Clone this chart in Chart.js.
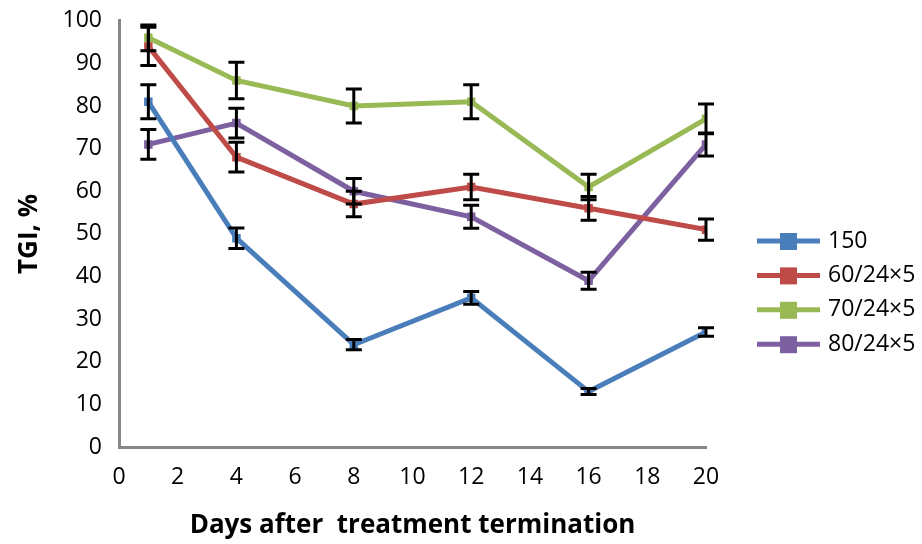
<!DOCTYPE html>
<html>
<head>
<meta charset="utf-8">
<script src="https://cdn.jsdelivr.net/npm/chart.js@4.4.0/dist/chart.umd.min.js"></script>
<style>
  html, body { margin: 0; padding: 0; background: #fff; }
  #wrap { width: 922px; height: 544px; }
</style>
</head>
<body>
<div id="wrap"><canvas id="tgiChart" width="922" height="544"></canvas></div>
<script>
// days after treatment termination
const days = [1, 4, 8, 12, 16, 20];

const seriesLabels = ['150', '60/24×5', '70/24×5', '80/24×5'];
const seriesColors = ['#4a7ebb', '#be4b48', '#98b954', '#7d60a0'];

// TGI values, %
const tgi150 = [81, 49, 24, 35, 13, 27];
const tgi60 = [94, 68, 57, 61, 56, 51];
const tgi70 = [96, 86, 80, 81, 61, 77];
const tgi80 = [71, 76, 60, 54, 39, 71];

// error bar half-heights
const err150 = [4, 2.4, 1.2, 1.5, 0.7, 1];
const err60 = [4.5, 3.5, 3, 3, 2.8, 2.5];
const err70 = [3, 4.3, 4, 4, 3, 3.5];
const err80 = [3.5, 3.5, 3, 2.7, 2, 2.7];

const yTicks = [0, 10, 20, 30, 40, 50, 60, 70, 80, 90, 100];

const values = [tgi150, tgi60, tgi70, tgi80];
const errors = [err150, err60, err70, err80];

const fontName = '"Open Sans", sans-serif';

// draws the error bars from the scales
const errorBars = {
  id: 'errorBars',
  afterDatasetsDraw(chart) {
    const ctx = chart.ctx;
    const xs = chart.scales.x;
    const ys = chart.scales.y;
    ctx.save();
    ctx.strokeStyle = '#000';
    ctx.lineWidth = 3;
    errors.forEach((errs, i) => {
      errs.forEach((e, j) => {
        const x = xs.getPixelForValue(days[j]);
        const top = ys.getPixelForValue(values[i][j] + e);
        const bot = ys.getPixelForValue(values[i][j] - e);
        ctx.beginPath();
        ctx.moveTo(x, top); ctx.lineTo(x, bot);
        ctx.moveTo(x - 8, top); ctx.lineTo(x + 8, top);
        ctx.moveTo(x - 8, bot); ctx.lineTo(x + 8, bot);
        ctx.stroke();
      });
    });
    ctx.restore();
  }
};

// legend on the right, line with square marker
const sideLegend = {
  id: 'sideLegend',
  afterDraw(chart) {
    const ctx = chart.ctx;
    ctx.save();
    ctx.font = '23px ' + fontName;
    ctx.textBaseline = 'middle';
    seriesLabels.forEach((lab, i) => {
      const y = 241 + i * 34.4;
      ctx.strokeStyle = seriesColors[i];
      ctx.lineWidth = 5;
      ctx.beginPath();
      ctx.moveTo(757, y); ctx.lineTo(820, y);
      ctx.stroke();
      ctx.fillStyle = seriesColors[i];
      ctx.fillRect(780, y - 8, 17, 17);
      ctx.fillStyle = '#000';
      ctx.fillText(lab, 828, y);
    });
    ctx.restore();
  }
};

const datasets = values.map((v, i) => ({
  label: seriesLabels[i],
  data: v.map((val, j) => ({ x: days[j], y: val })),
  borderColor: seriesColors[i],
  backgroundColor: seriesColors[i],
  borderWidth: 5,
  pointStyle: 'rect',
  pointRadius: 6,
  pointHoverRadius: 6,
  pointBorderWidth: 0,
  tension: 0
}));

new Chart(document.getElementById('tgiChart'), {
  type: 'line',
  data: { datasets },
  options: {
    responsive: false,
    animation: false,
    layout: { padding: { top: 20, right: 216, left: 0, bottom: 0 } },
    plugins: { legend: { display: false }, tooltip: { enabled: false } },
    scales: {
      x: {
        type: 'linear',
        min: 0, max: 20,
        ticks: { stepSize: 2, color: '#000', font: { size: 23, family: fontName }, padding: 7 },
        grid: { display: false, drawTicks: true, tickLength: 10, tickColor: '#868686', tickWidth: 3 },
        border: { color: '#868686', width: 3 },
        title: {
          display: true, text: 'Days after  treatment termination', color: '#000',
          font: { size: 26, weight: 'bold', family: fontName }, padding: { top: 10, bottom: 3 }
        },
        afterFit(s) { s.height = 97; }
      },
      y: {
        min: 0, max: 100,
        afterBuildTicks(s) { s.ticks = yTicks.map(v => ({ value: v })); },
        ticks: { color: '#000', font: { size: 23, family: fontName }, padding: 7 },
        grid: { display: false, drawTicks: true, tickLength: 10, tickColor: '#868686', tickWidth: 3 },
        border: { color: '#868686', width: 3 },
        title: {
          display: true, text: 'TGI, %', color: '#000',
          font: { size: 26, weight: 'bold', family: fontName }, padding: { top: 14, bottom: 0 }
        },
        afterFit(s) { s.width = 119; }
      }
    }
  },
  plugins: [errorBars, sideLegend]
});
</script>
</body>
</html>
